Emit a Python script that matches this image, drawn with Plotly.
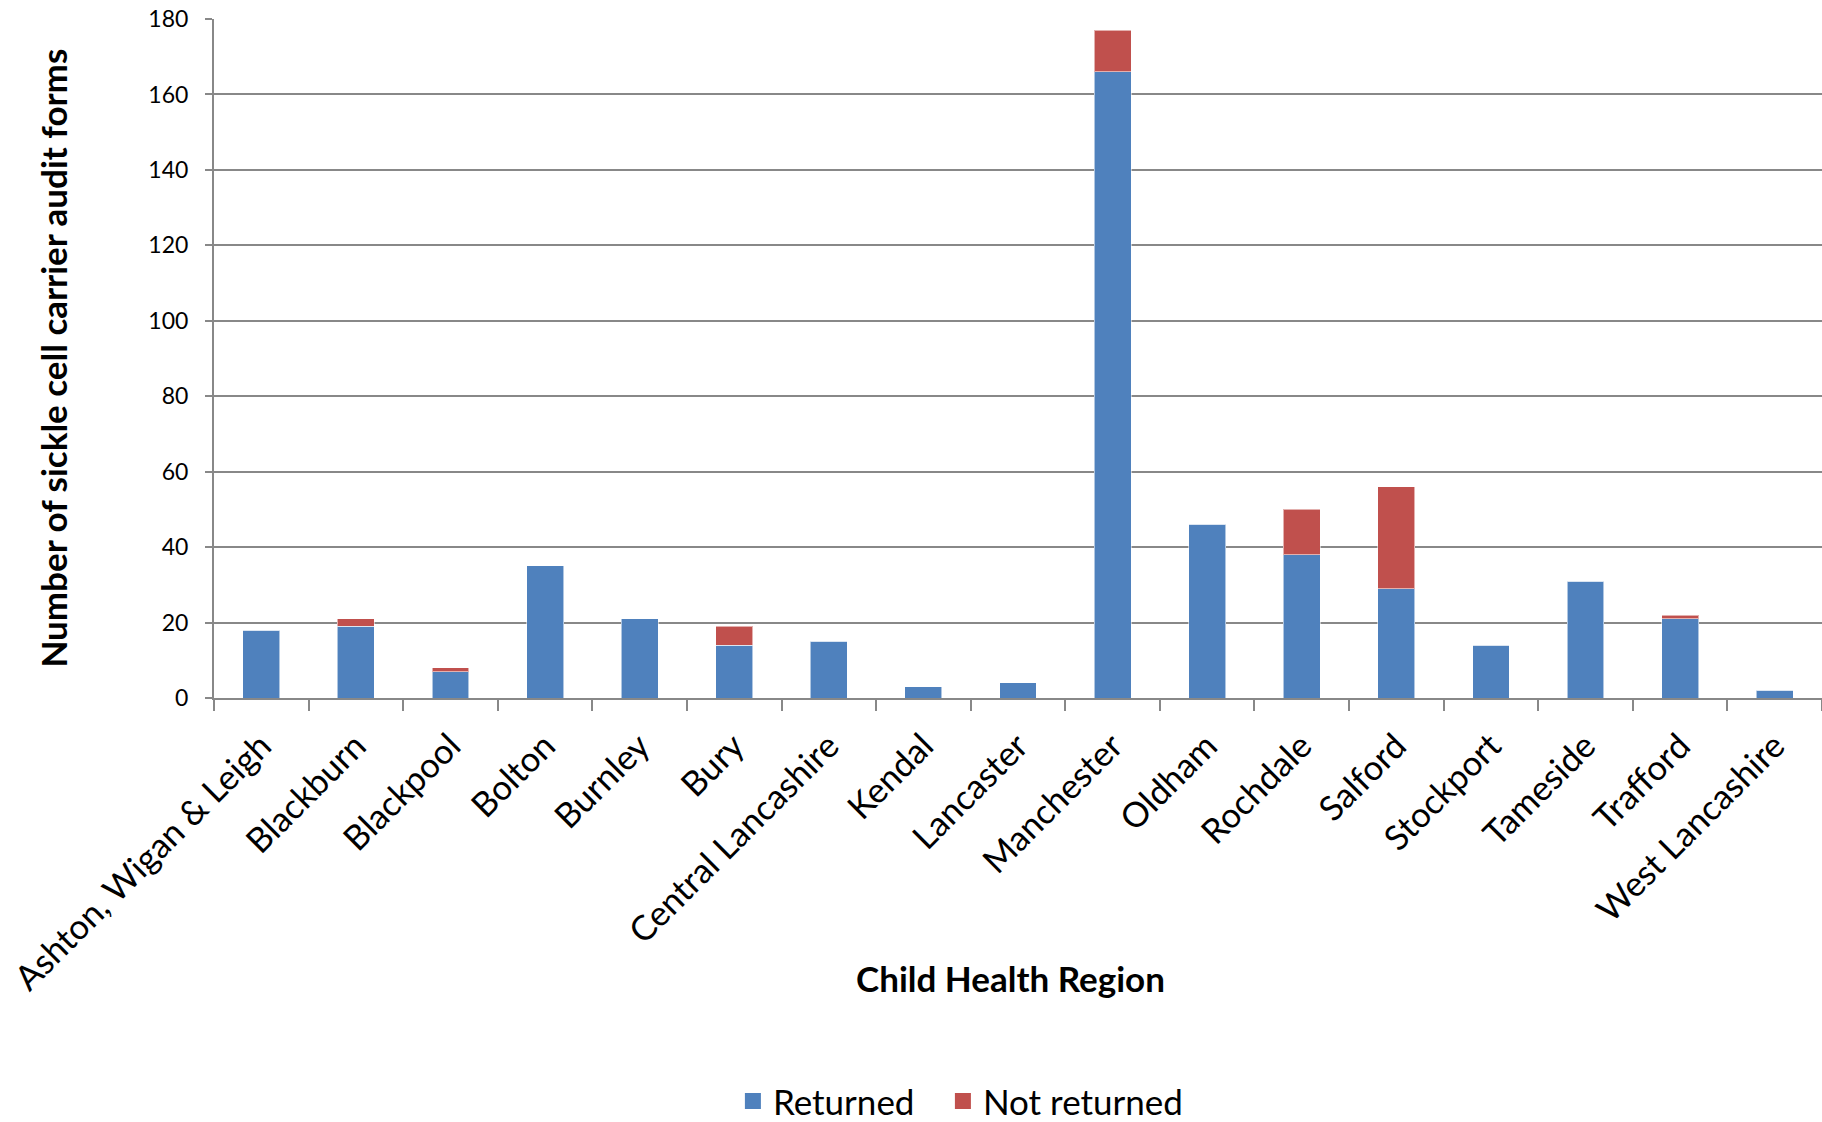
import plotly.graph_objects as go

regions = ["Ashton, Wigan & Leigh", "Blackburn", "Blackpool", "Bolton", "Burnley",
           "Bury", "Central Lancashire", "Kendal", "Lancaster", "Manchester",
           "Oldham", "Rochdale", "Salford", "Stockport", "Tameside", "Trafford",
           "West Lancashire"]
returned = [18, 19, 7, 35, 21, 14, 15, 3, 4, 166, 46, 38, 29, 14, 31, 21, 2]
not_returned = [0, 2, 1, 0, 0, 5, 0, 0, 0, 11, 0, 12, 27, 0, 0, 1, 0]
y_ticks = [0, 20, 40, 60, 80, 100, 120, 140, 160, 180]
series_names = ["Returned", "Not returned"]
series_colors = ["#4F81BD", "#C0504D"]

FONT = "Lato"
GRID = "#888888"

fig = go.Figure()
for name, vals, col in zip(series_names, [returned, not_returned], series_colors):
    fig.add_trace(go.Bar(x=regions, y=vals, name=name, showlegend=False,
                         marker=dict(color=col, line=dict(color="rgba(255,255,255,0.55)", width=1))))
# legend entries with larger square swatches, one legend box per entry
for name, col, lg in zip(series_names, series_colors, ["legend", "legend2"]):
    fig.add_trace(go.Scatter(x=[None], y=[None], mode="markers", name=name, legend=lg,
                             marker=dict(symbol="square", size=16, color=col)))

legend_common = dict(orientation="h", xanchor="left", y=-0.594, yanchor="middle",
                     font=dict(family=FONT, size=35, color="#000000"), itemwidth=30,
                     bgcolor="rgba(0,0,0,0)")

fig.update_layout(
    width=1822, height=1122,
    barmode="stack", bargap=0.61,
    plot_bgcolor="white", paper_bgcolor="white",
    margin=dict(l=214, r=0, t=19, b=424, autoexpand=False),
    font=dict(family=FONT, color="#000000"),
    showlegend=True,
    legend=dict(x=0.3227, **legend_common),
    legend2=dict(x=0.4533, **legend_common),
    annotations=[
        dict(text="<b>Child Health Region</b>", x=0.4956, xref="paper", y=-0.412, yref="paper",
             xanchor="center", yanchor="middle", showarrow=False,
             font=dict(family=FONT, size=35, color="#000000")),
        dict(text="<b>Number of sickle cell carrier audit forms</b>", x=-0.1007, xref="paper",
             y=0.5, yref="paper", xanchor="center", yanchor="middle", showarrow=False,
             textangle=-90, font=dict(family=FONT, size=35, color="#000000")),
    ],
)

fig.update_xaxes(
    tickangle=-45, tickfont=dict(family=FONT, size=34.5, color="#000000"),
    ticks="outside", tickson="boundaries", ticklen=11, tickwidth=2, tickcolor=GRID,
    ticklabelstandoff=12,
    showline=True, linecolor=GRID, linewidth=2,
    showgrid=False, automargin=False,
)
fig.update_yaxes(
    range=[0, 180], tickvals=y_ticks, ticktext=[str(v) for v in y_ticks],
    tickfont=dict(family=FONT, size=23, color="#000000"),
    ticks="outside", ticklen=7, tickwidth=2, tickcolor=GRID,
    ticklabelstandoff=12,
    showline=True, linecolor=GRID, linewidth=2,
    showgrid=True, gridcolor=GRID, gridwidth=2,
    zeroline=False, automargin=False,
)

fig.write_html("out.html")
